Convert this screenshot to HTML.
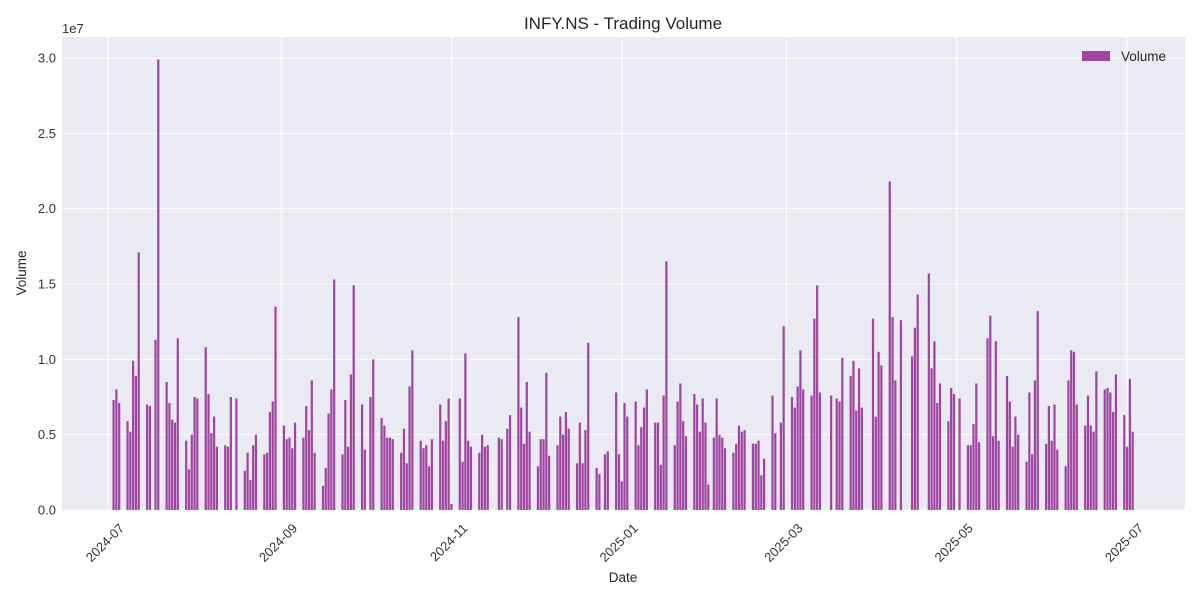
<!DOCTYPE html>
<html><head><meta charset="utf-8"><style>
body{margin:0;background:#fff;}
svg{display:block;font-family:"Liberation Sans","DejaVu Sans",sans-serif;}
</style></head><body>
<svg id="chart" width="1200" height="600" viewBox="0 0 1200 600">
<rect x="62" y="37" width="1123" height="473" fill="#eaeaf2"/>
<g id="grid"></g>
<g id="bars"></g>
<g id="xticks"></g>
<g id="yticks"></g>
<text x="623" y="29" text-anchor="middle" font-size="17" fill="#262626">INFY.NS - Trading Volume</text>
<text x="62" y="33" font-size="13" fill="#333">1e7</text>
<text transform="translate(26,273) rotate(-90)" text-anchor="middle" font-size="13.5" fill="#262626">Volume</text>
<text x="623" y="582" text-anchor="middle" font-size="13.5" fill="#262626">Date</text>
<g>
<rect x="1082" y="51" width="28" height="10" fill="rgb(160,70,162)"/>
<text x="1121" y="61" font-size="13.5" fill="#262626">Volume</text>
</g>
</svg>
<script>
const days = [2,3,4,7,8,9,10,11,14,15,17,18,21,22,23,24,25,28,29,30,31,32,35,36,37,38,39,42,43,44,46,49,50,51,52,53,56,57,58,59,60,63,64,65,66,67,70,71,72,73,74,77,78,79,80,81,84,85,86,87,88,91,92,94,95,98,99,100,101,102,105,106,107,108,109,112,113,114,115,116,119,120,121,122,123,126,127,128,129,130,133,134,135,136,140,141,143,144,147,148,149,150,151,154,155,156,157,158,161,162,163,164,165,168,169,170,171,172,175,176,178,179,182,183,184,185,186,189,190,191,192,193,196,197,198,199,200,203,204,205,206,207,210,211,212,213,214,215,217,218,219,220,221,224,225,226,227,228,231,232,233,234,235,238,239,241,242,245,246,247,248,249,252,253,254,255,259,261,262,263,266,267,268,269,270,274,275,276,277,280,281,282,284,288,289,290,294,295,296,297,298,301,302,303,305,308,309,310,311,312,315,316,317,318,319,322,323,324,325,326,329,330,331,332,333,336,337,338,339,340,343,344,345,346,347,350,351,352,353,354,357,358,359,360,361,364,365,366,367];
const volumesM = [7.3,8.0,7.1,5.9,5.2,9.9,8.9,17.1,7.0,6.9,11.3,29.9,8.5,7.1,6.0,5.8,11.4,4.6,2.7,5.0,7.5,7.4,10.8,7.7,5.1,6.2,4.2,4.3,4.2,7.5,7.4,2.6,3.8,2.0,4.3,5.0,3.7,3.8,6.5,7.2,13.5,5.6,4.7,4.8,4.1,5.8,4.8,6.9,5.3,8.6,3.8,1.6,2.8,6.4,8.0,15.3,3.7,7.3,4.2,9.0,14.9,7.0,4.0,7.5,10.0,6.1,5.6,4.8,4.8,4.7,3.8,5.4,3.1,8.2,10.6,4.6,4.1,4.3,2.9,4.7,7.0,4.6,5.9,7.4,0.4,7.4,3.2,10.4,4.6,4.2,3.8,5.0,4.2,4.3,4.8,4.7,5.4,6.3,12.8,6.8,4.4,8.5,5.2,2.9,4.7,4.7,9.1,3.6,4.3,6.2,5.0,6.5,5.4,3.1,5.8,3.1,5.3,11.1,2.8,2.4,3.7,3.9,7.8,3.7,1.9,7.1,6.2,7.2,4.3,5.5,6.8,8.0,5.8,5.8,3.0,7.6,16.5,4.3,7.2,8.4,5.9,4.9,7.7,7.0,5.2,7.4,5.8,1.7,4.8,7.4,5.0,4.8,4.1,3.8,4.4,5.6,5.2,5.3,4.4,4.4,4.6,2.3,3.4,7.6,5.1,5.8,12.2,7.5,6.8,8.2,10.6,8.0,7.6,12.7,14.9,7.8,7.6,7.4,7.2,10.1,8.9,9.9,6.6,9.4,6.8,12.7,6.2,10.5,9.6,21.8,12.8,8.6,12.6,10.2,12.1,14.3,15.7,9.4,11.2,7.1,8.4,5.9,8.1,7.7,7.4,4.3,4.3,5.7,8.4,4.5,11.4,12.9,4.9,11.2,4.6,8.9,7.2,4.2,6.2,5.0,3.2,7.8,3.7,8.6,13.2,4.4,6.9,4.6,7.0,4.0,2.9,8.6,10.6,10.5,7.0,5.6,7.6,5.6,5.2,9.2,8.0,8.1,7.8,6.5,9.0,6.3,4.2,8.7,5.2];
const xTickLabels = ["2024-07","2024-09","2024-11","2025-01","2025-03","2025-05","2025-07"];
const xTickDays = [0,62,123,184,243,304,365];
const yTickValues = [0,0.5,1.0,1.5,2.0,2.5,3.0];

const NS="http://www.w3.org/2000/svg";
const X0=108, PXDAY=2.792, Y0=510, PX_PER_E7=150.67;
function xs(d){return X0+d*PXDAY;}
function ys(v){return Y0-v*PX_PER_E7;}
const grid=document.getElementById('grid'), bars=document.getElementById('bars');
const xt=document.getElementById('xticks'), yt=document.getElementById('yticks');
function mk(tag,attrs,parent){const e=document.createElementNS(NS,tag);for(const k in attrs)e.setAttribute(k,attrs[k]);parent.appendChild(e);return e;}
yTickValues.forEach(v=>{
  const l=mk('line',{x1:62,x2:1185,y1:ys(v),y2:ys(v),stroke:'#fff','stroke-width':1},grid);
  
  
  const t=mk('text',{x:56,y:ys(v)+4.5,'text-anchor':'end','font-size':13,fill:'#333'},yt);
  
  
  t.textContent=v.toFixed(1);
});
xTickDays.forEach((d,i)=>{
  const x=xs(d);
  const l=mk('line',{x1:x,x2:x,y1:37,y2:510,stroke:'#fff','stroke-width':1},grid);
  
  
  const ax=x+17, ay=529;
  const t=mk('text',{x:ax,y:ay,'text-anchor':'end','font-size':13,fill:'#333',transform:'rotate(-45 '+ax+' '+ay+')'},xt);
  
  
  t.textContent=xTickLabels[i];
});
const bw=0.8*PXDAY;
days.forEach((d,i)=>{
  const v=volumesM[i]/10;
  const r=mk('rect',{x:xs(d)-bw/2,y:ys(v),width:bw,height:Y0-ys(v),fill:'rgb(160,70,162)'},bars);
  
  
});
</script>
</body></html>
